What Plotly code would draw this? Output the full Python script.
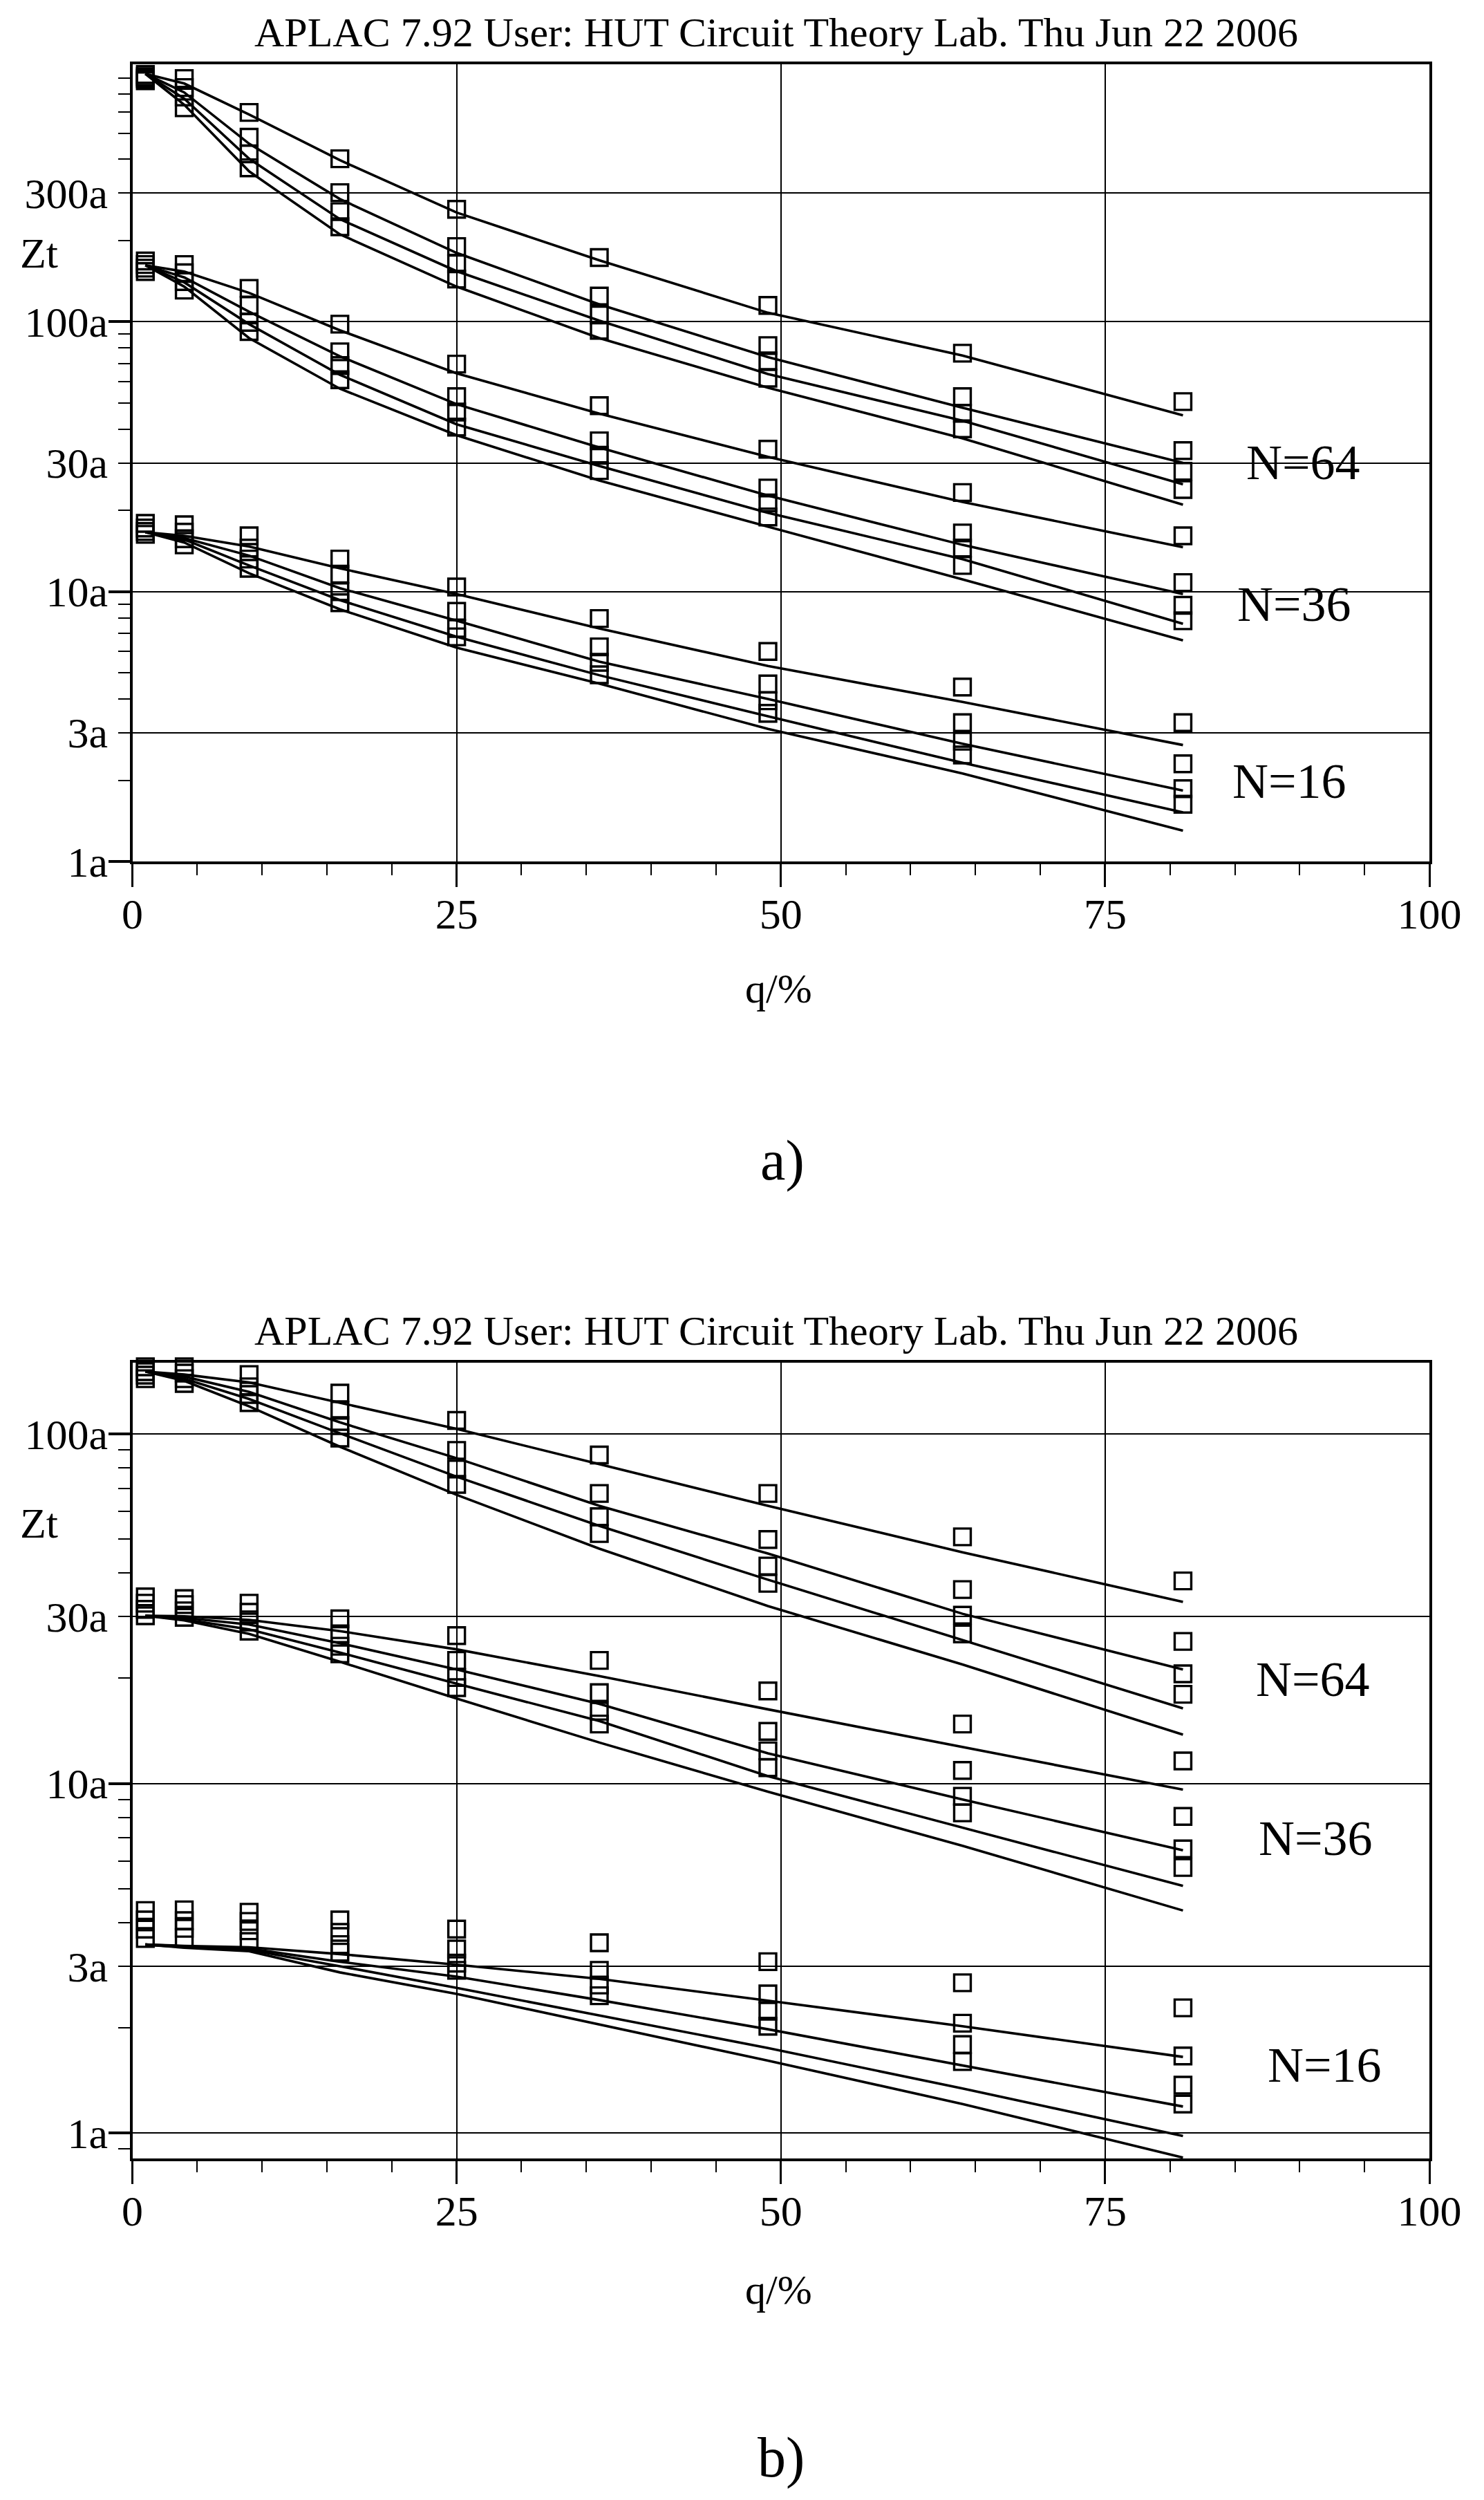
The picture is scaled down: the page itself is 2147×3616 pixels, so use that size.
import math
import plotly.graph_objects as go

# ---------------- data ----------------
q = [1, 4, 9, 16, 25, 36, 49, 64, 81]

x_tickvals = [0, 25, 50, 75, 100]
y_tickvals = [1, 3, 10, 30, 100, 300]
y_ticktext = ["1a", "3a", "10a", "30a", "100a", "300a"]

title_text = "APLAC 7.92 User: HUT Circuit Theory Lab. Thu Jun 22 2006"

# ---- panel a) ----
a_n64_lines = [
    [830, 764, 586, 397, 254, 169, 108, 75, 45],
    [830, 708, 457, 285, 180, 116, 74, 48, 30],
    [830, 671, 402, 240, 154, 101, 64, 43, 25],
    [830, 637, 361, 211, 135, 87, 57, 37, 21],
]
a_n64_marks = [
    [825, 797, 597, 402, 261, 173, 115, 76.5, 50.6],
    [809, 738, 483, 301, 190, 124.5, 81.6, 52.8, 33.3],
    [796, 681, 419, 256, 164, 106, 71.6, 45.8, 27.9],
    [782, 621, 372, 225, 144, 93, 61.8, 40.1, 23.9],
]
a_n36_lines = [
    [162, 153.5, 128, 93, 64.4, 45.7, 31.6, 21.5, 14.6],
    [162, 146, 109, 74.5, 49.5, 34.2, 22.7, 14.9, 9.8],
    [162, 140, 98, 63.6, 41.7, 29.2, 19.6, 13.2, 7.6],
    [162, 135, 87, 56.5, 38, 25.8, 17.4, 11.1, 6.6],
]
a_n36_marks = [
    [168, 163, 133, 98, 69.7, 48.9, 33.7, 23.3, 16.1],
    [163, 152, 115, 77.4, 52.8, 36.2, 24.2, 16.5, 10.8],
    [158, 141, 99.5, 68.8, 46.3, 32, 21.3, 14.5, 8.9],
    [153.5, 131, 92, 61, 40.7, 28.1, 18.9, 12.5, 7.8],
]
a_n16_lines = [
    [16.6, 16.1, 14.7, 12.2, 9.8, 7.3, 5.3, 3.9, 2.7],
    [16.6, 15.8, 13.6, 10.3, 7.8, 5.5, 4.0, 2.73, 1.83],
    [16.6, 15.6, 12.5, 9.3, 6.8, 4.9, 3.45, 2.32, 1.52],
    [16.6, 15.2, 11.7, 8.6, 6.2, 4.56, 3.1, 2.12, 1.30],
]
a_n16_marks = [
    [17.9, 17.7, 16.1, 13.2, 10.4, 7.95, 6.0, 4.43, 3.27],
    [17.2, 16.6, 14.5, 11.6, 8.45, 6.24, 4.55, 3.27, 2.30],
    [16.7, 15.7, 13.2, 10.0, 7.3, 5.47, 3.94, 2.79, 1.86],
    [16.3, 14.9, 12.2, 9.1, 6.8, 4.92, 3.54, 2.48, 1.63],
]
a_group_labels = ["N=64", "N=36", "N=16"]
a_label_q = [90.3, 89.6, 89.2]
a_label_z = [30.0, 9.0, 1.98]

# ---- panel b) ----
b_n64_lines = [
    [151, 148, 140.5, 123, 103.5, 82, 62.3, 45.9, 33.1],
    [151, 146, 132, 108, 85.3, 62.3, 45.5, 30.6, 21.2],
    [151, 144, 126, 100.5, 75.5, 54.6, 38.3, 25.7, 16.4],
    [151, 142, 120, 92, 67, 47, 32.2, 21.9, 13.8],
]
b_n64_marks = [
    [155.7, 155.7, 148, 131, 109.4, 87.1, 67.6, 50.8, 38],
    [150.8, 149.5, 136.5, 117, 89.8, 67.6, 49.9, 35.9, 25.5],
    [147.4, 144, 129.8, 105.7, 79.4, 58, 41.9, 30.3, 20.6],
    [144, 139.6, 123, 97.4, 71.8, 51.9, 37.4, 26.8, 18],
]
b_n36_lines = [
    [30.2, 30.1, 29.4, 27.3, 24.2, 20.3, 16.3, 12.7, 9.6],
    [30.2, 29.8, 28.5, 25.2, 21.2, 16.9, 12.2, 9.0, 6.44],
    [30.2, 29.5, 27.6, 23.7, 19.3, 15.1, 10.5, 7.48, 5.09],
    [30.2, 29.3, 26.8, 22.3, 17.5, 13.1, 9.47, 6.63, 4.33],
]
b_n36_marks = [
    [34.2, 33.8, 32.8, 29.6, 26.5, 22.5, 18.4, 14.8, 11.6],
    [32.8, 32.5, 30.9, 26.8, 22.5, 18.2, 14.1, 10.9, 8.05],
    [31.5, 31.2, 29.0, 24.7, 20.1, 16.1, 12.4, 9.19, 6.5],
    [30.2, 29.9, 27.3, 23.5, 18.8, 14.8, 11.1, 8.24, 5.75],
]
b_n16_lines = [
    [3.46, 3.43, 3.40, 3.25, 3.03, 2.76, 2.39, 2.02, 1.65],
    [3.46, 3.42, 3.37, 3.09, 2.80, 2.40, 1.98, 1.56, 1.19],
    [3.46, 3.40, 3.34, 3.00, 2.60, 2.17, 1.75, 1.34, 0.98],
    [3.46, 3.39, 3.31, 2.88, 2.50, 2.04, 1.61, 1.21, 0.85],
]
b_n16_marks = [
    [4.33, 4.35, 4.28, 4.07, 3.83, 3.50, 3.09, 2.69, 2.28],
    [4.07, 4.05, 4.03, 3.75, 3.36, 2.92, 2.50, 2.06, 1.66],
    [3.83, 3.85, 3.79, 3.46, 3.06, 2.65, 2.23, 1.79, 1.37],
    [3.60, 3.62, 3.53, 3.29, 2.92, 2.47, 2.02, 1.60, 1.21],
]
b_group_labels = ["N=64", "N=36", "N=16"]
b_label_q = [91.0, 91.25, 91.9]
b_label_z = [19.9, 6.98, 1.56]

# ---------------- layout helpers ----------------
W, H = 2147, 3616
FONT = "Liberation Serif, Times New Roman, serif"


def fx(p):
    return p / W


def fy(p):
    return 1 - p / H


fig = go.Figure()

panels = [
    dict(xa="x", ya="y", yl="y3",
         groups=[(a_n64_lines, a_n64_marks), (a_n36_lines, a_n36_marks), (a_n16_lines, a_n16_marks)]),
    dict(xa="x2", ya="y2", yl="y4",
         groups=[(b_n64_lines, b_n64_marks), (b_n36_lines, b_n36_marks), (b_n16_lines, b_n16_marks)]),
]

for p in panels:
    for lines, marks in p["groups"]:
        for yv in lines:
            fig.add_trace(go.Scatter(
                x=q, y=yv, mode="lines", xaxis=p["xa"], yaxis=p["ya"],
                line=dict(color="black", width=3.6), showlegend=False, hoverinfo="skip"))
        for yv in marks:
            fig.add_trace(go.Scatter(
                x=q, y=yv, mode="markers", xaxis=p["xa"], yaxis=p["ya"], cliponaxis=False,
                marker=dict(symbol="square-open", size=24, color="black", line=dict(width=3.4, color="black")),
                showlegend=False, hoverinfo="skip"))
    # invisible helper trace so the long-decade-tick overlay axis is drawn
    fig.add_trace(go.Scatter(
        x=q[:1], y=p["groups"][0][0][:1], mode="markers", xaxis=p["xa"], yaxis=p["yl"],
        marker=dict(opacity=0), showlegend=False, hoverinfo="skip"))

xdom = [fx(191.5), fx(2068)]
top_dom = [fy(1246), fy(92.9)]
bot_dom = [fy(3122), fy(1970.5)]
top_range = [0, 2.9545]
bot_range = [-0.0731, 2.2052]


def xaxis(anchor):
    return dict(
        domain=xdom, anchor=anchor, range=[0, 100], type="linear", automargin=False,
        tickvals=x_tickvals, ticktext=[str(v) for v in x_tickvals],
        ticks="outside", ticklen=33, tickwidth=3, tickcolor="black",
        showline=True, linewidth=4, linecolor="black", mirror=True,
        showgrid=True, gridcolor="black", gridwidth=1.6, zeroline=False,
        tickfont=dict(family=FONT, size=62, color="black"), ticklabelstandoff=-14,
        minor=dict(dtick=5, tick0=0, ticks="outside", ticklen=16, tickwidth=2,
                   tickcolor="black", showgrid=False),
    )


def yaxis(anchor, dom, rng, minor_vals):
    return dict(
        domain=dom, anchor=anchor, type="log", range=rng, automargin=False,
        tickvals=y_tickvals, ticktext=y_ticktext,
        ticks="outside", ticklen=17, tickwidth=2, tickcolor="black",
        showline=True, linewidth=4, linecolor="black", mirror=True,
        showgrid=True, gridcolor="black", gridwidth=1.6, zeroline=False,
        tickfont=dict(family=FONT, size=62, color="black"), ticklabelstandoff=2,
        minor=dict(tickvals=minor_vals, ticks="outside", ticklen=17, tickwidth=2,
                   tickcolor="black", showgrid=False),
    )


def ylong(anchor, overlay, rng):
    return dict(
        overlaying=overlay, anchor=anchor, side="left", type="log", range=rng, automargin=False,
        tickvals=[1, 10, 100], ticks="outside", ticklen=34, tickwidth=4, tickcolor="black",
        showticklabels=False, showgrid=False, showline=False, zeroline=False,
    )


top_minor = [2, 4, 5, 6, 7, 8, 9, 20, 40, 50, 60, 70, 80, 90, 200, 400, 500, 600, 700, 800]
bot_minor = [0.9, 2, 4, 5, 6, 7, 8, 9, 20, 40, 50, 60, 70, 80, 90]

annotations = []


def txt(text, x, y, size, xref="paper", yref="paper"):
    annotations.append(dict(text=text, x=x, y=y, xref=xref, yref=yref, showarrow=False,
                            xanchor="center", yanchor="middle",
                            font=dict(family=FONT, size=size, color="black")))


# titles
txt(title_text, fx(1123), fy(47), 60)
txt(title_text, fx(1123), fy(1925), 60)
# y-axis labels
txt("Zt", fx(56), fy(366), 62)
txt("Zt", fx(56), fy(2203), 62)
# x-axis labels
txt("q/%", fx(1126), fy(1430), 60)
txt("q/%", fx(1126), fy(3312), 60)
# panel captions
txt("a)", fx(1132), fy(1678), 82)
txt("b)", fx(1130), fy(3554), 82)
# group labels
for lab, xq, z in zip(a_group_labels, a_label_q, a_label_z):
    txt(lab, xq, math.log10(z), 72, xref="x", yref="y")
for lab, xq, z in zip(b_group_labels, b_label_q, b_label_z):
    txt(lab, xq, math.log10(z), 72, xref="x2", yref="y2")

fig.update_layout(
    template="none",
    width=W, height=H,
    margin=dict(l=0, r=0, t=0, b=0, pad=0),
    paper_bgcolor="white", plot_bgcolor="white",
    showlegend=False,
    font=dict(family=FONT, color="black"),
    xaxis=xaxis("y"),
    xaxis2=xaxis("y2"),
    yaxis=yaxis("x", top_dom, top_range, top_minor),
    yaxis2=yaxis("x2", bot_dom, bot_range, bot_minor),
    yaxis3=ylong("x", "y", top_range),
    yaxis4=ylong("x2", "y2", bot_range),
    annotations=annotations,
)

fig.write_html(
    "out.html",
    config={"displayModeBar": False},
    post_script="document.body.style.margin='0';document.body.style.overflow='hidden';",
)
